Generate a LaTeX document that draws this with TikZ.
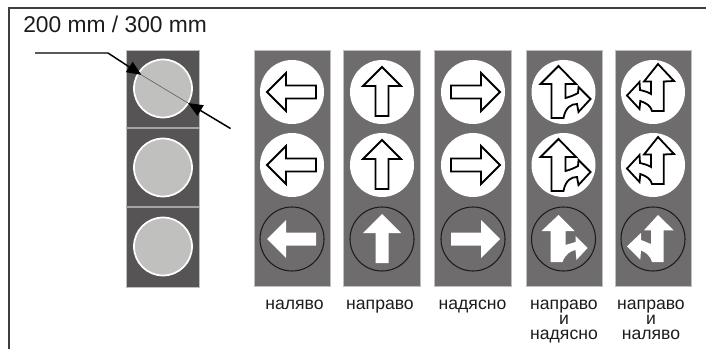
\documentclass[tikz,border=0pt]{standalone}
\usepackage{fontspec}
\setmainfont{Liberation Sans}
\usetikzlibrary{arrows.meta}
\definecolor{panelgrey}{HTML}{6E6C6C}
\definecolor{housing}{HTML}{565454}
\definecolor{lampgrey}{HTML}{C0C0BE}
\definecolor{divider}{HTML}{A4A4A4}
\definecolor{inkdark}{HTML}{1C1C1C}
\tikzset{
  x=.75pt,y=-.75pt,
  panelbox/.style={fill=panelgrey,draw=lightgray,line width=.4pt},
  housingbox/.style={fill=housing,draw=lightgray,line width=.4pt},
  lamp/.style={circle,fill=lampgrey,draw=white,line width=1.3pt,minimum size=43.5pt,inner sep=0pt},
  whitedisc/.style={circle,fill=white,minimum size=48pt,inner sep=0pt},
  ringdisc/.style={circle,draw=inkdark,line width=.8pt,minimum size=48pt,inner sep=0pt},
  outlined/.style={fill=white,draw=black,line width=1.35pt,line join=miter},
  solidwhite/.style={fill=white},
  leader/.style={draw=black,line width=1.1pt,-{Triangle[length=11pt,width=9pt]}},
  sight/.style={draw=black!60,line width=.5pt},
  caption/.style={font=\fontsize{13.2pt}{11.25pt}\selectfont,align=center,anchor=north,inner sep=0pt,text=inkdark},
  pics/arrowleft/.style={code={\path[#1] (-25,0)--(-6,-19)--(-6,-6.5)--(24,-6.5)--(24,6.5)--(-6,6.5)--(-6,19)--cycle;}},
  pics/arrowright/.style={code={\path[#1] (27,0)--(8,-19)--(8,-6.5)--(-22,-6.5)--(-22,6.5)--(8,6.5)--(8,19)--cycle;}},
  pics/arrowup/.style={code={\path[#1] (0,-25)--(19,-6)--(6.5,-6)--(6.5,24)--(-6.5,24)--(-6.5,-6)--(-19,-6)--cycle;}},
  pics/upright/.style={code={\path[#1] (-5,-26)--(12.5,-8)--(2,-8)--(2,6) .. controls (6,5) and (11,3) .. (14.5,1)--(15,-5)--(27,7)--(15,20)--(13.5,12) .. controls (8,12) and (2,15) .. (0,26)--(-12,26)--(-12,-8)--(-23,-8)--cycle;}},
  pics/uprightsolid/.style={code={\path[#1] (-5,-24)--(11,-8)--(2,-8)--(2,6) .. controls (5,5) and (9,4) .. (12,3)--(12,-3)--(24,9)--(13,21)--(12,11) .. controls (7,12) and (2,15) .. (-1,23)--(-13,23)--(-13,-8)--(-22,-8)--cycle;}},
  pics/upleft/.style={code={\path[#1] (5,-28)--(21,-11)--(10.7,-10.5)--(10.7,19)--(-1,19) .. controls (-2,14) and (-7,11) .. (-12.7,9)--(-13.5,17)--(-26,3.5)--(-13.5,-10)--(-13,-2) .. controls (-9,-1) and (-5,0) .. (-2,2)--(-2,-10.5)--(-9,-10.5)--cycle;}},
  pics/upleftsolid/.style={code={\path[#1] (5,-24)--(20.7,-8.7)--(10.7,-8.7)--(10.7,23)--(-1,23) .. controls (-2,18) and (-7,13) .. (-12,11.5)--(-12.7,20.7)--(-26,7.3)--(-12,-6)--(-12,1) .. controls (-9,2) and (-5,4) .. (-2,5)--(-2,-8.7)--(-9,-8.7)--cycle;}},
}
\begin{document}
\begin{tikzpicture}
\useasboundingbox (0,0) rectangle (706,349);
\draw[inkdark!85,line width=1pt] (9,349)--(9,8)--(706,8);
\node[anchor=west,inner sep=0pt,font=\fontsize{17.1pt}{18pt}\selectfont,text=inkdark] (size) at (23,24) {200 mm / 300 mm};
% signal housing
\path[housingbox] (126,50) rectangle (199,287);
\draw[divider,line width=1.5pt] (126,127.7)--(199,127.7) (126,207)--(199,207);
\node[lamp] (lampA) at (163,88.5) {};
\node[lamp] (lampB) at (163,167.5) {};
\node[lamp] (lampC) at (163,246.5) {};
% dimension leaders
\coordinate (leadstart) at (35,53);
\coordinate (leadbend) at (108,53);
\coordinate (leadtip) at (141.5,75);
\coordinate (leadend) at (230.5,128.5);
\coordinate (leadtipb) at (188,103);
\draw[sight] (leadtip)--(leadtipb);
\draw[leader] (leadstart)--(leadbend)--(leadtip);
\draw[leader] (leadend)--(leadtipb);
% panels
\foreach \xa/\xb in {254/330,343/420,434/511,526/602,615/691}{\path[panelbox] (\xa,50) rectangle (\xb,286);}
\foreach \nm/\cx/\ps/\pt in {a/292/arrowleft/arrowleft,b/382/arrowup/arrowup,c/473/arrowright/arrowright,d/563.5/upright/uprightsolid,e/653/upleft/upleftsolid}{
  \node[whitedisc] (disc\nm1) at (\cx,92) {};
  \node[whitedisc] (disc\nm2) at (\cx,165) {};
  \node[ringdisc] (disc\nm3) at (\cx,239) {};
  \pic at (disc\nm1.center) {\ps={outlined}};
  \pic at (disc\nm2.center) {\ps={outlined}};
  \pic at (disc\nm3.center) {\pt={solidwhite}};
}
% captions
\node[caption] (capa) at (294.5,300) {наляво};
\node[caption] (capb) at (380,300) {направо};
\node[caption] (capc) at (472.5,300) {надясно};
\node[caption] (capd) at (564,300) {направо\\и\\надясно};
\node[caption] (cape) at (651,300) {направо\\и\\наляво};
\end{tikzpicture}
\end{document}
